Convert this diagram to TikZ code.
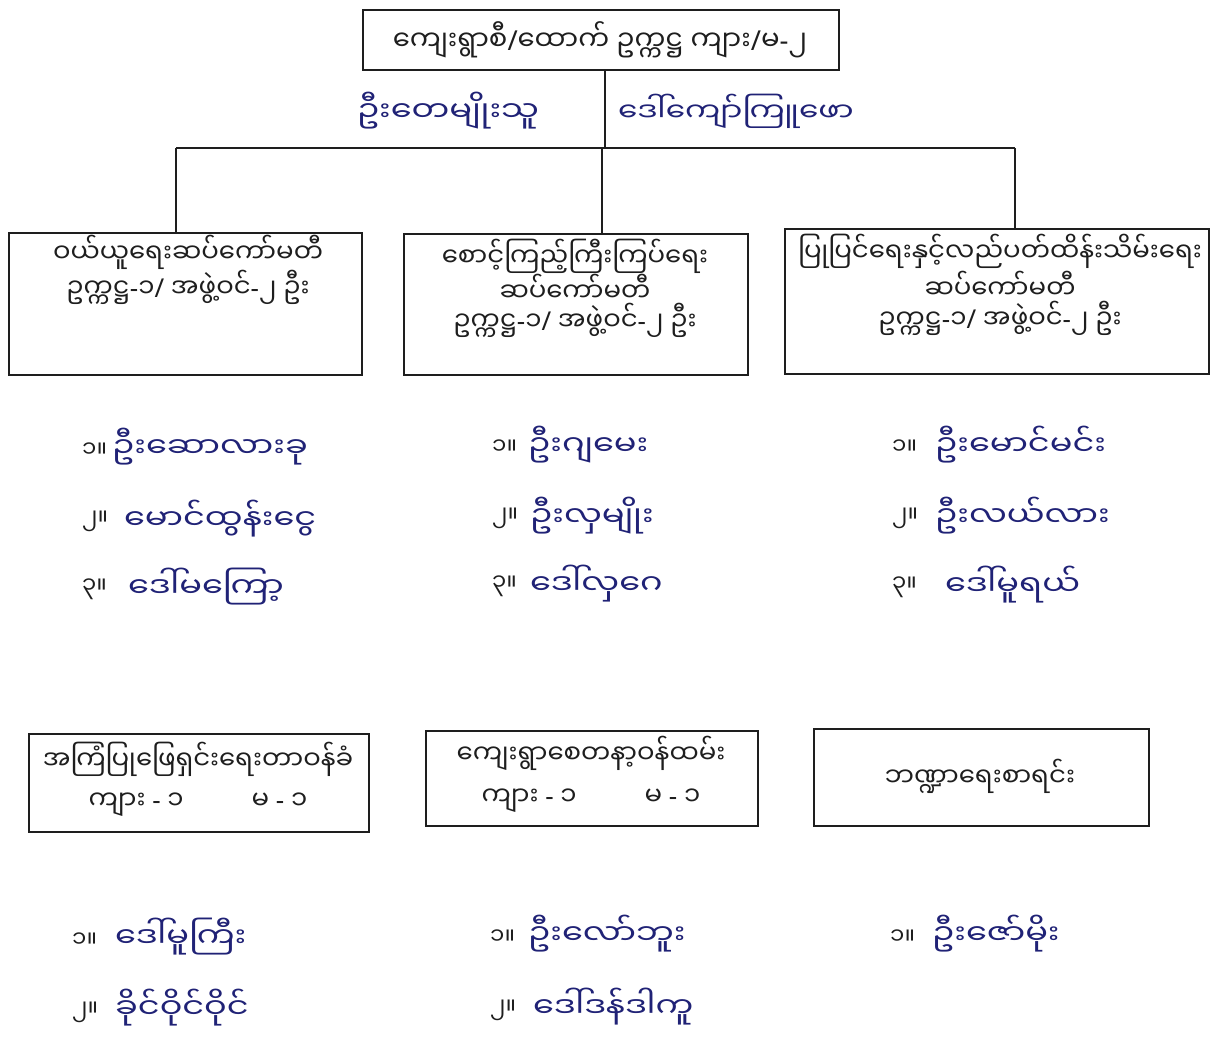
\documentclass[tikz,border=0pt]{standalone}
\usepackage{fontspec}
\newfontfamily\mya[Script=Myanmar]{Noto Sans Myanmar UI}
\newfontfamily\myh[Script=Myanmar,FakeStretch=1.2]{Noto Sans Myanmar UI}
\newfontfamily\latf{Noto Sans}
\newcommand\myslash{{\latf /}}
\newcommand\mydash{{\latf -}}
\definecolor{ink}{RGB}{32,34,118}
\definecolor{prn}{RGB}{30,30,30}
\begin{document}
\begin{tikzpicture}[x=1pt,y=-1pt,
  boxst/.style={draw=prn,line width=1.5pt,inner sep=0pt,anchor=north west},
  linest/.style={draw=prn,line width=1.2pt},
  ptxt/.style={font=\mya\fontsize{26}{28}\selectfont,text=prn,inner sep=0pt},
  htxt/.style={font=\myh\fontsize{28}{30}\selectfont,text=ink,inner sep=0pt,anchor=west},
  numst/.style={font=\mya\fontsize{23}{25}\selectfont,text=prn,inner sep=0pt,anchor=west}]
\useasboundingbox (0,0) rectangle (1214,1036);
\fill[white] (0,0) rectangle (1214,1036);
% top box
\node[boxst,minimum width=476pt,minimum height=60pt] (top) at (362,9) {};
\node[ptxt,font=\mya\fontsize{27.5}{30}\selectfont] (toptxt) at (600,40) {ကျေးရွာစီ\myslash ထောက် ဥက္ကဋ္ဌ ကျား\myslash မ\mydash ၂};
\node[htxt,anchor=center] (lblL) at (448,111) {ဦးတေမျိုးသူ};
\node[htxt,anchor=west,font=\myh\fontsize{26}{28}\selectfont] (lblR) at (618,111) {ဒေါ်ကျော်ကြူဖော};
% bus
\coordinate (j) at (605,148);
\coordinate (d1) at (176,148);
\coordinate (d2) at (602,148);
\coordinate (d3) at (1015,148);
% row 1 boxes
\node[boxst,minimum width=353pt,minimum height=142pt] (b1) at (8,232) {};
\node[boxst,minimum width=344pt,minimum height=141pt] (b2) at (403,233) {};
\node[boxst,minimum width=424pt,minimum height=145pt] (b3) at (784,228) {};
\draw[linest] (j |- top.south) -- (j);
\draw[linest] (d1) -- (d3);
\draw[linest] (d1) -- (d1 |- b1.north);
\draw[linest] (d2) -- (d2 |- b2.north);
\draw[linest] (d3) -- (d3 |- b3.north);
% box texts
\node[ptxt] (b1a) at (188,252) {ဝယ်ယူရေးဆပ်ကော်မတီ};
\node[ptxt] (b1b) at (188,287) {ဥက္ကဋ္ဌ\mydash ၁\myslash\ အဖွဲ့ဝင်\mydash ၂ ဦး};
\node[ptxt] (b2a) at (575,256) {စောင့်ကြည့်ကြီးကြပ်ရေး};
\node[ptxt] (b2b) at (575,288) {ဆပ်ကော်မတီ};
\node[ptxt] (b2c) at (575,320) {ဥက္ကဋ္ဌ\mydash ၁\myslash\ အဖွဲ့ဝင်\mydash ၂ ဦး};
\node[ptxt] (b3a) at (1000,251) {ပြုပြင်ရေးနှင့်လည်ပတ်ထိန်းသိမ်းရေး};
\node[ptxt] (b3b) at (1000,285) {ဆပ်ကော်မတီ};
\node[ptxt] (b3c) at (1000,318) {ဥက္ကဋ္ဌ\mydash ၁\myslash\ အဖွဲ့ဝင်\mydash ၂ ဦး};
% names row 1
\node[numst] (n11) at (82,450) {၁။};
\node[htxt] (m11) at (112,447) {ဦးဆောလားခု};
\node[numst] (n12) at (82,521) {၂။};
\node[htxt] (m12) at (124,519) {မောင်ထွန်းငွေ};
\node[numst] (n13) at (82,589) {၃။};
\node[htxt] (m13) at (128,587) {ဒေါ်မကြော့};
\node[numst] (n21) at (492,447) {၁။};
\node[htxt] (m21) at (528,445) {ဦးဂျမေး};
\node[numst] (n22) at (492,518) {၂။};
\node[htxt] (m22) at (530,516) {ဦးလှမျိုး};
\node[numst] (n23) at (492,586) {၃။};
\node[htxt] (m23) at (530,584) {ဒေါ်လှဂေ};
\node[numst] (n31) at (892,447) {၁။};
\node[htxt] (m31) at (935,445) {ဦးမောင်မင်း};
\node[numst] (n32) at (892,518) {၂။};
\node[htxt] (m32) at (935,516) {ဦးလယ်လား};
\node[numst] (n33) at (892,587) {၃။};
\node[htxt] (m33) at (945,585) {ဒေါ်မူရယ်};
% row 2 boxes
\node[boxst,minimum width=340pt,minimum height=98pt] (b4) at (28,733) {};
\node[boxst,minimum width=332pt,minimum height=95pt] (b5) at (425,730) {};
\node[boxst,minimum width=335pt,minimum height=97pt] (b6) at (813,728) {};
\node[ptxt] (b4a) at (198,759) {အကြံပြုဖြေရှင်းရေးတာဝန်ခံ};
\node[ptxt] (b4b) at (198,805) {ကျား \mydash\ ၁\hspace{68pt}မ \mydash\ ၁};
\node[ptxt] (b5a) at (591,753) {ကျေးရွာစေတနာ့ဝန်ထမ်း};
\node[ptxt] (b5b) at (591,801) {ကျား \mydash\ ၁\hspace{68pt}မ \mydash\ ၁};
\node[ptxt] (b6a) at (980,776) {ဘဏ္ဍာရေးစာရင်း};
% names row 2
\node[numst] (n41) at (72,940) {၁။};
\node[htxt] (m41) at (115,937) {ဒေါ်မူကြီး};
\node[numst] (n42) at (72,1012) {၂။};
\node[htxt] (m42) at (115,1008) {ခိုင်ဝိုင်ဝိုင်};
\node[numst] (n51) at (490,937) {၁။};
\node[htxt] (m51) at (528,934) {ဦးလော်ဘူး};
\node[numst] (n52) at (490,1010) {၂။};
\node[htxt] (m52) at (533,1007) {ဒေါ်ဒန်ဒါကူ};
\node[numst] (n61) at (890,937) {၁။};
\node[htxt] (m61) at (932,934) {ဦးဇော်မိုး};
\end{tikzpicture}
\end{document}
